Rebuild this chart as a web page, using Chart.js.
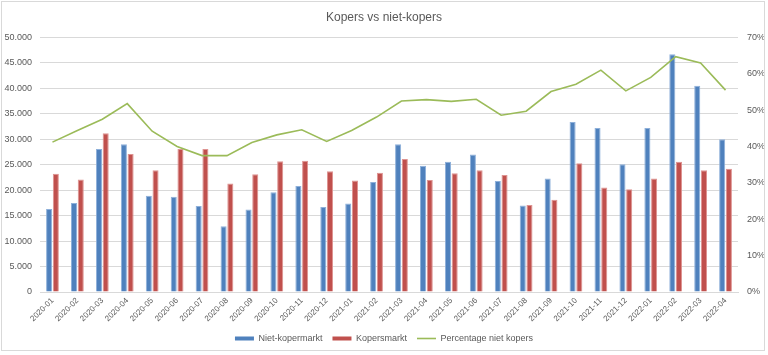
<!DOCTYPE html>
<html>
<head>
<meta charset="utf-8">
<script src="https://cdn.jsdelivr.net/npm/chart.js@4/dist/chart.umd.min.js"></script>
<style>
  html, body { margin: 0; padding: 0; background: #fff; }
  #wrap { position: relative; width: 768px; height: 355px; }
  #frame { position: absolute; left: 1px; top: 1px; width: 764px; height: 350px; border: 1px solid #D9D9D9; box-sizing: border-box; pointer-events: none; }
</style>
</head>
<body>
<div id="wrap">
  <canvas id="c" width="768" height="355"></canvas>
  <div id="frame"></div>
</div>
<script>
const months = ["2020-01","2020-02","2020-03","2020-04","2020-05","2020-06","2020-07","2020-08","2020-09","2020-10","2020-11","2020-12",
                "2021-01","2021-02","2021-03","2021-04","2021-05","2021-06","2021-07","2021-08","2021-09","2021-10","2021-11","2021-12",
                "2022-01","2022-02","2022-03","2022-04"];
const nietKopermarkt = [16300,17500,28100,29000,18900,18700,16900,12900,16200,19600,20800,16700,
                        17400,21600,29000,24800,25600,27000,21800,17000,22300,33400,32200,25100,
                        32200,46700,40500,30000];
const kopersmarkt = [23200,22100,31200,27100,23900,28100,28100,21300,23100,25700,25800,23700,
                     21900,23400,26100,22000,23300,23900,23000,17100,18100,25300,20500,20200,
                     22300,25600,23900,24200];
const percentageNietKopers = [41.2,44.4,47.5,51.8,44.2,40.0,37.5,37.5,41.1,43.2,44.6,41.4,
                              44.4,48.1,52.5,52.9,52.4,53.0,48.6,49.7,55.1,57.1,61.0,55.3,
                              59.0,64.7,63.0,55.5];
const seriesNames = ["Niet-kopermarkt","Kopersmarkt","Percentage niet kopers"];
const chartTitle = "Kopers vs niet-kopers";

const FONT = "'Liberation Sans', Arial, sans-serif";
const TXT = '#595959';
const GRID = '#D9D9D9';

function fmtThousands(v) {
  return String(v).replace(/\B(?=(\d{3})+(?!\d))/g, '.');
}

new Chart(document.getElementById('c'), {
  data: {
    labels: months,
    datasets: [
      { type: 'bar', label: seriesNames[0], data: nietKopermarkt, yAxisID: 'y',
        backgroundColor: '#4F81BD', borderColor: '#8EB0DA', borderWidth: 1, order: 1,
        categoryPercentage: 0.54, barPercentage: 0.9 },
      { type: 'bar', label: seriesNames[1], data: kopersmarkt, yAxisID: 'y',
        backgroundColor: '#C0504D', borderColor: '#DE9391', borderWidth: 1, order: 1,
        categoryPercentage: 0.54, barPercentage: 0.9 },
      { type: 'line', label: seriesNames[2], data: percentageNietKopers, yAxisID: 'y1',
        borderColor: '#9BBB59', backgroundColor: '#9BBB59', borderWidth: 1.6,
        pointRadius: 0, tension: 0, fill: false, order: 0 }
    ]
  },
  options: {
    responsive: false,
    animation: false,
    devicePixelRatio: 1,
    layout: { padding: { left: 0, right: 0, top: 0, bottom: 2 } },
    plugins: {
      title: { display: true, text: chartTitle, color: TXT,
               font: { family: FONT, size: 12, weight: 'normal' },
               padding: { top: 10, bottom: 13 } },
      tooltip: { enabled: false },
      legend: {
        position: 'bottom',
        labels: {
          color: TXT, font: { family: FONT, size: 9 },
          usePointStyle: true, pointStyleWidth: 19, boxHeight: 4, padding: 10,
          sort: (a, b) => a.datasetIndex - b.datasetIndex,
          generateLabels: (chart) => {
            const items = Chart.defaults.plugins.legend.labels.generateLabels(chart);
            items.forEach(it => {
              if (it.datasetIndex === 2) { it.pointStyle = 'line'; it.lineWidth = 1.6; it.strokeStyle = '#9BBB59'; }
              else { it.pointStyle = 'rect'; it.lineWidth = 0; }
            });
            return items;
          }
        }
      }
    },
    scales: {
      x: {
        grid: { display: false, drawTicks: false },
        border: { display: true, color: GRID },
        ticks: { color: TXT, font: { family: FONT, size: 8 }, minRotation: 45, maxRotation: 45, padding: 4, autoSkip: false },
        afterFit: (s) => { s.height = 32; }
      },
      y: {
        position: 'left', min: 0, max: 50000,
        grid: { color: GRID, drawTicks: false },
        border: { display: false },
        ticks: { stepSize: 5000, color: TXT, font: { family: FONT, size: 9 }, padding: 8,
                 callback: (v) => fmtThousands(v) },
        afterFit: (s) => { s.width = 40; }
      },
      y1: {
        position: 'right', min: 0, max: 70,
        grid: { drawOnChartArea: false, drawTicks: false },
        border: { display: false },
        ticks: { stepSize: 10, color: TXT, font: { family: FONT, size: 9 }, padding: 9,
                 callback: (v) => v + '%' },
        afterFit: (s) => { s.width = 30; }
      }
    }
  }
});
</script>
</body>
</html>
